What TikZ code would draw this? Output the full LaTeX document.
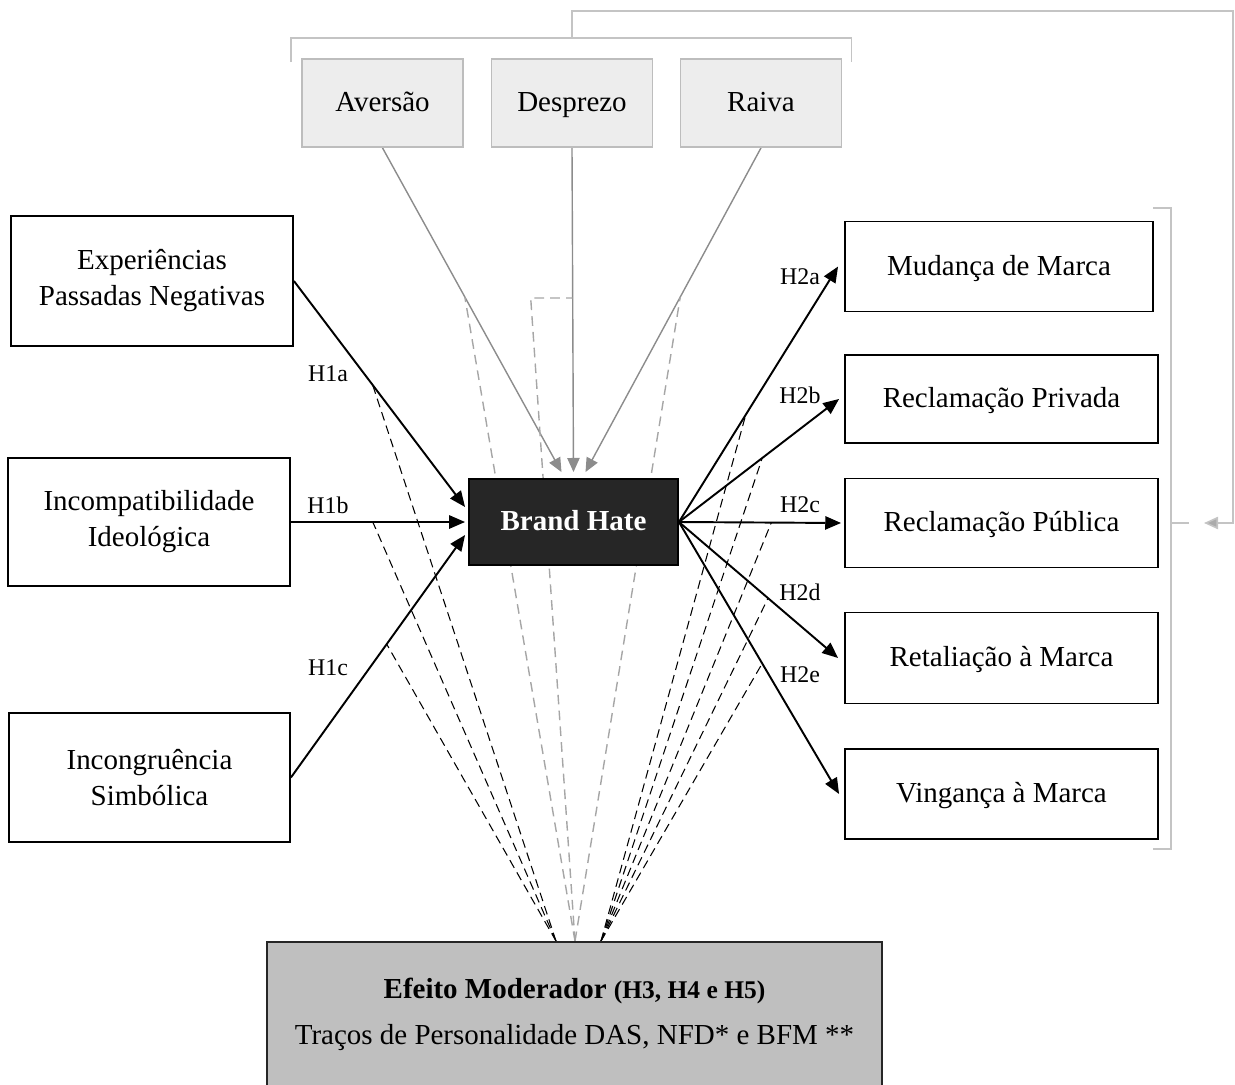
\documentclass[tikz,border=0pt]{standalone}
\usepackage{fontspec}
\setmainfont{Liberation Serif}
\usetikzlibrary{arrows.meta,calc}
\pgfdeclarelayer{background}
\pgfsetlayers{background,main}
\definecolor{topfill}{HTML}{EDEDED}
\definecolor{topdraw}{HTML}{BDBDBD}
\definecolor{bhfill}{HTML}{262626}
\definecolor{modfill}{HTML}{BFBFBF}
\definecolor{garrow}{HTML}{8C8C8C}
\definecolor{gdashc}{HTML}{A6A6A6}
\definecolor{brk}{HTML}{C4C4C4}
\definecolor{fbarrow}{HTML}{ABABAB}
\tikzset{
  mainfont/.style={font=\fontsize{16.5}{20.5}\selectfont},
  wbox/.style={draw=black, line width=1.1pt, fill=white, align=center, inner sep=0pt, mainfont},
  onel/.style={text height=10pt, text depth=0pt},
  tbox/.style={draw=topdraw, line width=1pt, fill=topfill, align=center, inner sep=0pt, mainfont, onel,
               minimum width=3.22cm, minimum height=1.76cm},
  bhbox/.style={draw=black, line width=1.1pt, fill=bhfill, text=white, inner sep=0pt, onel,
               font=\fontsize{16.5}{20}\selectfont\bfseries, minimum width=4.18cm, minimum height=1.72cm},
  modbox/.style={draw=bhfill, line width=1.1pt, fill=modfill, inner sep=0pt,
               minimum width=12.3cm, minimum height=3.2cm},
  arr/.style={draw=black, line width=1.1pt, -{Triangle[length=9pt,width=7.5pt]}},
  garr/.style={draw=garrow, line width=0.8pt, -{Triangle[length=8pt,width=7pt]}},
  bdash/.style={draw=black, line width=0.6pt, dash pattern=on 5pt off 3pt},
  gdash/.style={draw=gdashc, line width=0.8pt, dash pattern=on 5.5pt off 3.5pt},
  brack/.style={draw=brk, line width=0.9pt},
  lbl/.style={font=\fontsize{13.6}{16}\selectfont, inner sep=0pt},
}
\begin{document}
\begin{tikzpicture}[x=0.02cm,y=-0.02cm]
\useasboundingbox (0,0) rectangle (1235,1085);

% top emotion boxes
\node[tbox] (aver) at (382.5,103) {Aversão};
\node[tbox] (desp) at (572,103) {Desprezo};
\node[tbox] (raiva) at (761,103) {Raiva};

% left antecedents
\node[wbox, minimum width=5.64cm, minimum height=2.6cm] (exp) at (152,281) {Experiências\\Passadas Negativas};
\node[wbox, minimum width=5.64cm, minimum height=2.56cm] (inc) at (149,522) {Incompatibilidade\\Ideológica};
\node[wbox, minimum width=5.62cm, minimum height=2.58cm] (ing) at (149.5,777.5) {Incongruência\\Simbólica};

% brand hate
\node[bhbox] (bh) at (573.5,522) {Brand Hate};

% right outcomes
\node[wbox, onel, minimum width=6.16cm, minimum height=1.8cm] (mud) at (999,266.5) {Mudança de Marca};
\node[wbox, onel, minimum width=6.26cm, minimum height=1.76cm] (priv) at (1001.5,399) {Reclamação Privada};
\node[wbox, onel, minimum width=6.26cm, minimum height=1.78cm] (pub) at (1001.5,523) {Reclamação Pública};
\node[wbox, onel, minimum width=6.26cm, minimum height=1.82cm] (ret) at (1001.5,658) {Retaliação à Marca};
\node[wbox, onel, minimum width=6.26cm, minimum height=1.8cm] (ving) at (1001.5,794) {Vingança à Marca};

% moderator box
\node[modbox] (mod) at (574.5,1022) {};
\node[inner sep=0pt, font=\fontsize{16.5}{20}\selectfont\bfseries] (modt1) at (574.5,991)
  {Efeito Moderador {\fontsize{14.5}{18}\selectfont(H3, H4 e H5)}};
\node[inner sep=0pt, mainfont] (modt2) at (574.5,1038) {Traços de Personalidade DAS, NFD* e BFM **};

\begin{pgfonlayer}{background}
% gray emotion arrows
\draw[garr] (aver.south) -- coordinate[pos=0.46] (dav) ([shift={(-12,-6)}]bh.north);
\draw[garr] (desp.south) -- coordinate[pos=0.463] (dde) ([shift={(0,-6)}]bh.north);
\draw[garr] (raiva.south) -- coordinate[pos=0.46] (dra) ([shift={(12,-6)}]bh.north);

% antecedent arrows
\draw[arr] (exp.east) -- coordinate[pos=0.46] (d1a) ([shift={(-3,-15)}]bh.west);
\draw[arr] (inc.east) -- coordinate[pos=0.47] (d1b) ([shift={(-3,0)}]bh.west);
\draw[arr] (ing.east) -- coordinate[pos=0.55] (d1c) ([shift={(-3,13)}]bh.west);

% outcome arrows
\draw[arr] (bh.east) -- coordinate[pos=0.42] (d2a) ([shift={(-6,0)}]mud.west);
\draw[arr] (bh.east) -- coordinate[pos=0.52] (d2b) ([shift={(-5,0)}]priv.west);
\draw[arr] (bh.east) -- coordinate[pos=0.57] (d2c) ([shift={(-3,0)}]pub.west);
\draw[arr] (bh.east) -- coordinate[pos=0.56] (d2d) ([shift={(-6,0)}]ret.west);
\draw[arr] (bh.east) -- coordinate[pos=0.52] (d2e) ([shift={(-5,0)}]ving.west);

% moderator dashed connectors
\coordinate (mL) at ([shift={(-18.5,0)}]mod.north);
\coordinate (mC) at ([shift={(0.5,0)}]mod.north);
\coordinate (mR) at ([shift={(26.5,0)}]mod.north);
\draw[bdash] (mL) -- (d1a);
\draw[bdash] (mL) -- (d1b);
\draw[bdash] (mL) -- (d1c);
\draw[gdash] (mC) -- (dav);
\draw[gdash] (mC) -- ([shift={(-42,0)}]dde) -- (dde);
\draw[gdash] (mC) -- (dra);
\draw[bdash] (mR) -- (d2a);
\draw[bdash] (mR) -- (d2b);
\draw[bdash] (mR) -- (d2c);
\draw[bdash] (mR) -- (d2d);
\draw[bdash] (mR) -- (d2e);
\end{pgfonlayer}

% labels
\node[lbl] (h1a) at (328,374) {H1a};
\node[lbl] (h1b) at (328,505) {H1b};
\node[lbl] (h1c) at (328,668) {H1c};
\node[lbl] (h2a) at (800,277) {H2a};
\node[lbl] (h2b) at (800,395) {H2b};
\node[lbl] (h2c) at (800,505) {H2c};
\node[lbl] (h2d) at (800,592) {H2d};
\node[lbl] (h2e) at (800,675) {H2e};

% brackets and feedback arrow
\coordinate (tb) at ($(aver.north west)!0.5!(raiva.north east)+(0,-20)$);
\draw[brack] ([shift={(-10,4)}]aver.north west) -- ([shift={(-10,-20)}]aver.north west)
  -- ([shift={(9,-20)}]raiva.north east) -- ([shift={(9,4)}]raiva.north east);
\coordinate (rbt) at (1171,208);
\coordinate (rbb) at (1171,849);
\draw[brack] ([xshift=-0.36cm]rbt) -- (rbt) -- (rbb) -- ([xshift=-0.36cm]rbb);
\coordinate (rbm) at (1171,523);
\draw[brack] (rbm) -- ++(18,0);
\draw[brack, -{Triangle[length=8pt,width=7pt,fill=fbarrow]}] (tb) -- ++(0,-27) -| (1233,523) -- (1204,523);
\end{tikzpicture}
\end{document}
